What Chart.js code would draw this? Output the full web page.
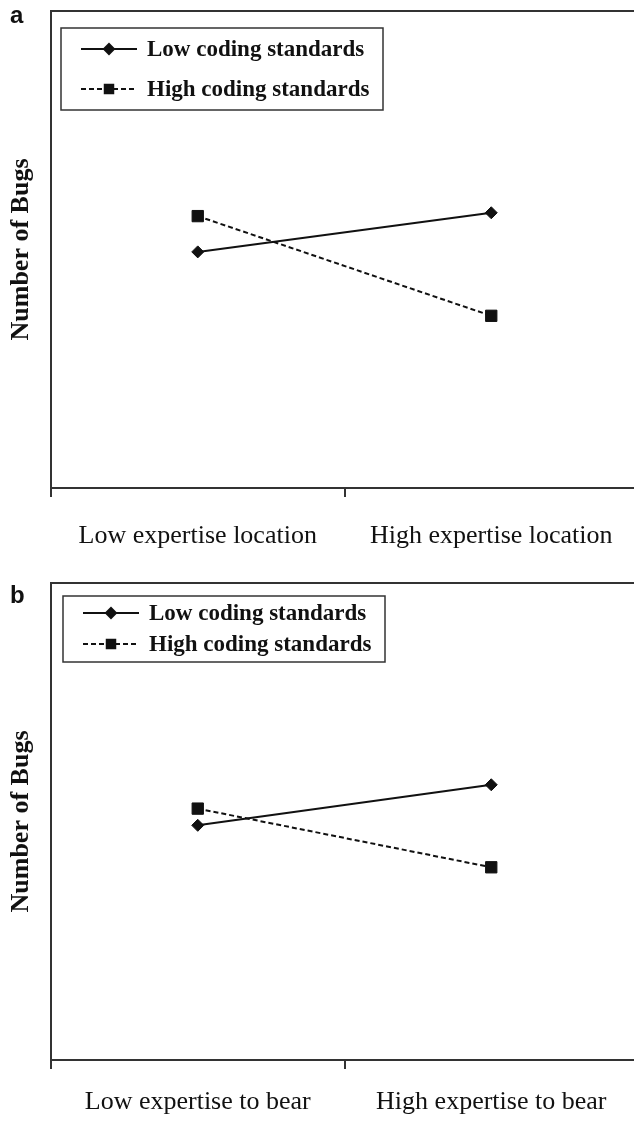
<!DOCTYPE html>
<html>
<head>
<meta charset="utf-8">
<script src="https://cdn.jsdelivr.net/npm/chart.js@4.4.1/dist/chart.umd.min.js"></script>
<style>
  html, body { margin: 0; padding: 0; background: #fff; overflow: hidden; }
  body { width: 634px; height: 1122px; position: relative; }
  .panel { position: absolute; left: 0; width: 647px; height: 561px; }
  #panelA { top: 0; }
  #panelB { top: 572px; }
</style>
</head>
<body>
<div class="panel" id="panelA"><canvas id="chartA" width="647" height="561"></canvas></div>
<div class="panel" id="panelB"><canvas id="chartB" width="647" height="561"></canvas></div>
<script>
// Series names and category labels
const seriesNames = ['Low coding standards', 'High coding standards'];
const labelsA = ['Low expertise location', 'High expertise location'];
const labelsB = ['Low expertise to bear', 'High expertise to bear'];

// Values (arbitrary units, axis has no tick labels)
const lowCodingA = [4.95, 5.77];
const highCodingA = [5.70, 3.61];
const lowCodingB = [4.92, 5.77];
const highCodingB = [5.27, 4.04];
const yMin = 0;
const yMax = 10;

const ink = '#111';
const axisColor = '#333';
const serif = '"Liberation Serif", "Times New Roman", serif';

// Draws the top frame line, the panel letter and the boxed legend
const panelDecor = {
    id: 'panelDecor',
    afterDraw(chart, args, opts) {
        const { ctx, chartArea } = chart;
        ctx.save();

        // top border of the plot area
        ctx.strokeStyle = axisColor;
        ctx.lineWidth = 2;
        ctx.beginPath();
        ctx.moveTo(chartArea.left, chartArea.top);
        ctx.lineTo(chartArea.right, chartArea.top);
        ctx.stroke();

        // panel letter
        ctx.fillStyle = ink;
        ctx.font = 'bold 24px "Liberation Sans", Arial, sans-serif';
        ctx.textBaseline = 'alphabetic';
        ctx.textAlign = 'left';
        ctx.fillText(opts.letter, 10, opts.letterY);

        // legend box
        const b = opts.box;
        ctx.strokeStyle = axisColor;
        ctx.lineWidth = 1.5;
        ctx.strokeRect(b.x, b.y, b.w, b.h);

        chart.data.datasets.forEach((ds, i) => {
            const y = opts.rows[i];
            const x0 = b.x + 20;
            const x1 = b.x + 76;
            ctx.strokeStyle = ds.borderColor;
            ctx.lineWidth = ds.borderWidth;
            ctx.setLineDash(ds.borderDash || []);
            ctx.beginPath();
            ctx.moveTo(x0, y);
            ctx.lineTo(x1, y);
            ctx.stroke();
            ctx.setLineDash([]);

            ctx.fillStyle = ds.pointBackgroundColor;
            ctx.strokeStyle = ds.pointBorderColor;
            Chart.helpers.drawPoint(ctx, {
                pointStyle: ds.pointStyle,
                radius: ds.legendRadius,
                rotation: 0,
                borderWidth: 1
            }, (x0 + x1) / 2, y);

            ctx.fillStyle = ink;
            ctx.font = 'bold 23px ' + serif;
            ctx.textBaseline = 'middle';
            ctx.fillText(ds.label, b.x + 86, y + 1);
        });
        ctx.restore();
    }
};

function makeChart(canvasId, labels, lowData, highData, decor, labelPad) {
    const ctx = document.getElementById(canvasId).getContext('2d');
    return new Chart(ctx, {
        type: 'line',
        data: {
            labels: labels,
            datasets: [{
                label: seriesNames[0],
                data: lowData,
                borderColor: ink,
                borderWidth: 2,
                pointStyle: 'rectRot',
                pointRadius: 6,
                legendRadius: 5,
                pointBackgroundColor: ink,
                pointBorderColor: ink,
                pointBorderWidth: 1,
                tension: 0
            }, {
                label: seriesNames[1],
                data: highData,
                borderColor: ink,
                borderWidth: 2,
                borderDash: [5, 3],
                pointStyle: 'rect',
                pointRadius: 8,
                legendRadius: 6,
                pointBackgroundColor: ink,
                pointBorderColor: ink,
                pointBorderWidth: 1,
                tension: 0
            }]
        },
        options: {
            responsive: false,
            animation: false,
            layout: { padding: { top: 11, left: 0, right: 0, bottom: 0 } },
            plugins: {
                legend: { display: false },
                tooltip: { enabled: false },
                panelDecor: decor
            },
            scales: {
                x: {
                    type: 'category',
                    offset: true,
                    grid: {
                        display: true,
                        offset: true,
                        drawOnChartArea: false,
                        drawTicks: true,
                        tickLength: 9,
                        color: axisColor,
                        lineWidth: 2
                    },
                    border: { display: true, color: axisColor, width: 2 },
                    ticks: {
                        color: ink,
                        font: { family: serif, size: 26 },
                        padding: labelPad,
                        maxRotation: 0,
                        autoSkip: false
                    },
                    afterFit(scale) { scale.height = 73; }
                },
                y: {
                    min: yMin,
                    max: yMax,
                    grid: { display: false, drawTicks: false },
                    border: { display: true, color: axisColor, width: 2 },
                    ticks: { display: false },
                    title: {
                        display: true,
                        text: 'Number of Bugs',
                        color: ink,
                        font: { family: serif, size: 26, weight: 'bold' },
                        padding: { top: 6, bottom: 0 }
                    },
                    afterFit(scale) { scale.width = 51; }
                }
            }
        },
        plugins: [panelDecor]
    });
}

makeChart('chartA', labelsA, lowCodingA, highCodingA, {
    letter: 'a', letterY: 23,
    box: { x: 61, y: 28, w: 322, h: 82 },
    rows: [49, 89]
}, 24);

makeChart('chartB', labelsB, lowCodingB, highCodingB, {
    letter: 'b', letterY: 31,
    box: { x: 63, y: 24, w: 322, h: 66 },
    rows: [41, 72]
}, 18);
</script>
</body>
</html>
